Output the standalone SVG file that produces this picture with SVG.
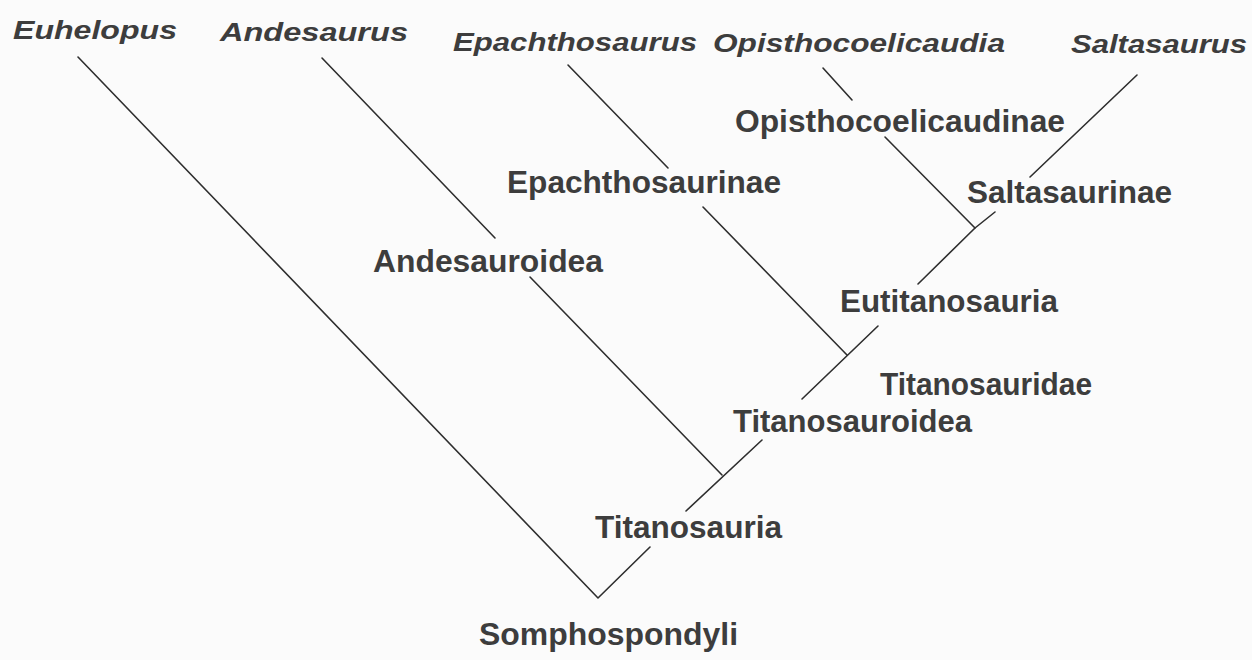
<svg xmlns="http://www.w3.org/2000/svg" width="1252" height="660" viewBox="0 0 1252 660">
<style>
.bg{fill:#fbfbfb}
.taxon{font-family:"Liberation Sans",Arial,sans-serif;font-weight:bold;font-style:italic;font-size:26px;fill:#3d3d3d}
.clade{font-family:"Liberation Sans",Arial,sans-serif;font-weight:bold;font-size:31px;fill:#3d3d3d}
.edge{stroke:#2e2e2e;stroke-width:1.6;fill:none;stroke-linecap:round;stroke-linejoin:round}
</style>
<rect class="bg" x="0" y="0" width="1252" height="660"/>
<g id="connectors">
<path class="edge" d="M78,57 L598,598 L650,547"/>
<path class="edge" d="M686,511 L762,440"/>
<path class="edge" d="M322,58 L495,238"/>
<path class="edge" d="M530,277 L722,475"/>
<path class="edge" d="M802,399 L878,326"/>
<path class="edge" d="M568,65 L668,168"/>
<path class="edge" d="M703,207 L847,355"/>
<path class="edge" d="M918,284 L975,228 L995,212"/>
<path class="edge" d="M823,68 L852,100"/>
<path class="edge" d="M885,137 L975,228"/>
<path class="edge" d="M1137,75 L1030,177"/>
</g>
<g id="euhelopus"><text class="taxon" x="13" y="39" textLength="164" lengthAdjust="spacingAndGlyphs">Euhelopus</text></g>
<g id="andesaurus"><text class="taxon" x="220" y="41" textLength="188" lengthAdjust="spacingAndGlyphs">Andesaurus</text></g>
<g id="epachthosaurus"><text class="taxon" x="453" y="51" textLength="244" lengthAdjust="spacingAndGlyphs">Epachthosaurus</text></g>
<g id="opisthocoelicaudia"><text class="taxon" x="713" y="52" textLength="292" lengthAdjust="spacingAndGlyphs">Opisthocoelicaudia</text></g>
<g id="saltasaurus"><text class="taxon" x="1071" y="53" textLength="176" lengthAdjust="spacingAndGlyphs">Saltasaurus</text></g>
<g id="opisthocoelicaudinae"><text class="clade" x="735" y="132" textLength="330" lengthAdjust="spacingAndGlyphs">Opisthocoelicaudinae</text></g>
<g id="epachthosaurinae"><text class="clade" x="507" y="193" textLength="274" lengthAdjust="spacingAndGlyphs">Epachthosaurinae</text></g>
<g id="saltasaurinae"><text class="clade" x="967" y="203" textLength="205" lengthAdjust="spacingAndGlyphs">Saltasaurinae</text></g>
<g id="andesauroidea"><text class="clade" x="373" y="272" textLength="230" lengthAdjust="spacingAndGlyphs">Andesauroidea</text></g>
<g id="eutitanosauria"><text class="clade" x="840" y="312" textLength="218" lengthAdjust="spacingAndGlyphs">Eutitanosauria</text></g>
<g id="titanosauridae"><text class="clade" x="880" y="395" textLength="212" lengthAdjust="spacingAndGlyphs">Titanosauridae</text></g>
<g id="titanosauroidea"><text class="clade" x="733" y="432" textLength="239" lengthAdjust="spacingAndGlyphs">Titanosauroidea</text></g>
<g id="titanosauria"><text class="clade" x="595" y="538" textLength="187" lengthAdjust="spacingAndGlyphs">Titanosauria</text></g>
<g id="somphospondyli"><text class="clade" x="479" y="645" textLength="259" lengthAdjust="spacingAndGlyphs">Somphospondyli</text></g>
</svg>
